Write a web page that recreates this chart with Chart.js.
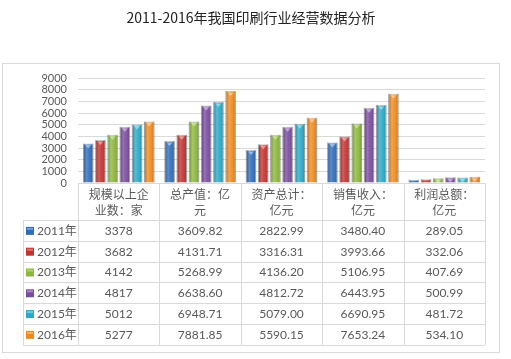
<!DOCTYPE html>
<html>
<head>
<meta charset="utf-8">
<script src="https://cdn.jsdelivr.net/npm/chart.js@4.4.0/dist/chart.umd.min.js"></script>
<style>
  body { margin: 0; background: #fff; }
  canvas { display: block; }
</style>
</head>
<body>
<canvas id="chart" width="511" height="359"></canvas>
<script>
// 数据
const title = "2011-2016年我国印刷行业经营数据分析";
const categories = [
  ["规模以上企", "业数：家"],
  ["总产值：亿", "元"],
  ["资产总计：", "亿元"],
  ["销售收入：", "亿元"],
  ["利润总额：", "亿元"]
];
const years = ["2011年", "2012年", "2013年", "2014年", "2015年", "2016年"];
const v2011 = [3378, 3609.82, 2822.99, 3480.40, 289.05];
const v2012 = [3682, 4131.71, 3316.31, 3993.66, 332.06];
const v2013 = [4142, 5268.99, 4136.20, 5106.95, 407.69];
const v2014 = [4817, 6638.60, 4812.72, 6443.95, 500.99];
const v2015 = [5012, 6948.71, 5079.00, 6690.95, 481.72];
const v2016 = [5277, 7881.85, 5590.15, 7653.24, 534.10];
const yTicks = [0, 1000, 2000, 3000, 4000, 5000, 6000, 7000, 8000, 9000];

const colors = ["#2f6cb9", "#c3322f", "#8bb83a", "#7a4b9f", "#29a9c7", "#f08a1d"];
const seriesValues = [v2011, v2012, v2013, v2014, v2015, v2016];

const gridColor = "#d9d9d9";
const textColor = "#595959";
const numFont = 'Lato, "Noto Sans CJK SC", sans-serif';
const cjkFont = '"Noto Sans CJK SC", sans-serif';

function fmt(v, col) {
  return col === 0 ? String(v) : v.toFixed(2);
}

// 外框、标题、数据表
const tablePlugin = {
  id: "tablePlugin",
  beforeDraw(chart) {
    const ctx = chart.ctx;
    ctx.save();
    ctx.strokeStyle = gridColor;
    ctx.lineWidth = 1;
    ctx.strokeRect(2.5, 63.5, 497, 289);
    ctx.fillStyle = "#222";
    ctx.font = "14px " + cjkFont;
    ctx.textAlign = "center";
    ctx.textBaseline = "middle";
    ctx.fillText(title, 251, 18);
    ctx.restore();
  },
  afterDatasetsDraw(chart) {
    const ctx = chart.ctx;
    const area = chart.chartArea;
    const xs = chart.scales.x;
    const n = categories.length;
    const step = (area.right - area.left) / n;
    const top = area.bottom;
    const headBottom = top + 37;
    const rowH = 20.8;
    const legendLeft = 23;
    const bottom = headBottom + rowH * years.length;

    ctx.save();
    ctx.strokeStyle = gridColor;
    ctx.lineWidth = 1;
    ctx.beginPath();
    // 表头上边
    ctx.moveTo(area.left, Math.round(top) + 0.5);
    ctx.lineTo(area.right, Math.round(top) + 0.5);
    // 横线
    for (let r = 0; r <= years.length; r++) {
      const y = Math.round(headBottom + r * rowH) + 0.5;
      ctx.moveTo(legendLeft, y);
      ctx.lineTo(area.right, y);
    }
    // 竖线
    for (let i = 0; i <= n; i++) {
      const x = Math.round(area.left + i * step) + 0.5;
      ctx.moveTo(x, top);
      ctx.lineTo(x, bottom);
    }
    ctx.moveTo(legendLeft + 0.5, headBottom);
    ctx.lineTo(legendLeft + 0.5, bottom);
    ctx.stroke();

    ctx.textAlign = "center";
    ctx.textBaseline = "middle";
    ctx.fillStyle = textColor;
    // 表头
    ctx.font = "12px " + cjkFont;
    categories.forEach((lines, i) => {
      const cx = xs.getPixelForValue(i);
      lines.forEach((t, k) => ctx.fillText(t, cx, top + 11 + k * 16));
    });
    // 数值
    ctx.font = "12px " + numFont;
    seriesValues.forEach((vals, r) => {
      const cy = headBottom + rowH * r + rowH / 2 + 0.5;
      vals.forEach((v, i) => {
        ctx.fillText(fmt(v, i), xs.getPixelForValue(i), cy);
      });
      // 图例
      ctx.fillStyle = colors[r];
      ctx.fillRect(legendLeft + 3, cy - 4, 8, 8);
      ctx.fillStyle = "rgba(255,255,255,0.35)";
      ctx.fillRect(legendLeft + 4, cy - 3, 6, 2);
      ctx.fillStyle = textColor;
      ctx.textAlign = "left";
      ctx.fillText(years[r], legendLeft + 14, cy);
      ctx.textAlign = "center";
    });

    // 柱子高光
    chart.data.datasets.forEach((ds, di) => {
      const meta = chart.getDatasetMeta(di);
      meta.data.forEach((bar) => {
        const l = bar.x - bar.width / 2;
        const w = bar.width;
        const h = bar.base - bar.y;
        const g = ctx.createLinearGradient(l, 0, l + w, 0);
        g.addColorStop(0, "rgba(0,0,0,0.18)");
        g.addColorStop(0.35, "rgba(255,255,255,0.22)");
        g.addColorStop(0.6, "rgba(255,255,255,0.08)");
        g.addColorStop(1, "rgba(0,0,0,0.22)");
        ctx.fillStyle = g;
        ctx.fillRect(l, bar.y, w, h);
        if (h > 4) {
          ctx.fillStyle = "rgba(255,255,255,0.45)";
          ctx.beginPath();
          ctx.moveTo(bar.x - 3, bar.y + 1.5);
          ctx.lineTo(bar.x + 3, bar.y + 1.5);
          ctx.lineTo(bar.x, bar.y + 5);
          ctx.closePath();
          ctx.fill();
        }
      });
    });
    ctx.restore();
  }
};

new Chart(document.getElementById("chart"), {
  type: "bar",
  data: {
    labels: categories,
    datasets: years.map((y, i) => ({
      label: y,
      data: seriesValues[i],
      backgroundColor: colors[i],
      borderColor: "rgba(0,0,0,0.25)",
      borderWidth: 1,
      categoryPercentage: 0.9,
      barPercentage: 0.86
    }))
  },
  options: {
    responsive: false,
    animation: false,
    layout: { padding: { left: 0, right: 26, top: 78, bottom: 176 } },
    plugins: {
      legend: { display: false },
      title: { display: false },
      tooltip: { enabled: false }
    },
    scales: {
      x: {
        display: false
      },
      y: {
        min: 0,
        max: 9000,
        afterFit(scale) { scale.width = 78; },
        afterBuildTicks(scale) { scale.ticks = yTicks.map(v => ({ value: v })); },
        border: { display: false },
        grid: { color: gridColor, drawTicks: false },
        ticks: {
          color: textColor,
          padding: 11,
          autoSkip: false,
          callback: (v) => String(v),
          font: { family: numFont, size: 11 }
        }
      }
    }
  },
  plugins: [tablePlugin]
});
</script>
</body>
</html>
